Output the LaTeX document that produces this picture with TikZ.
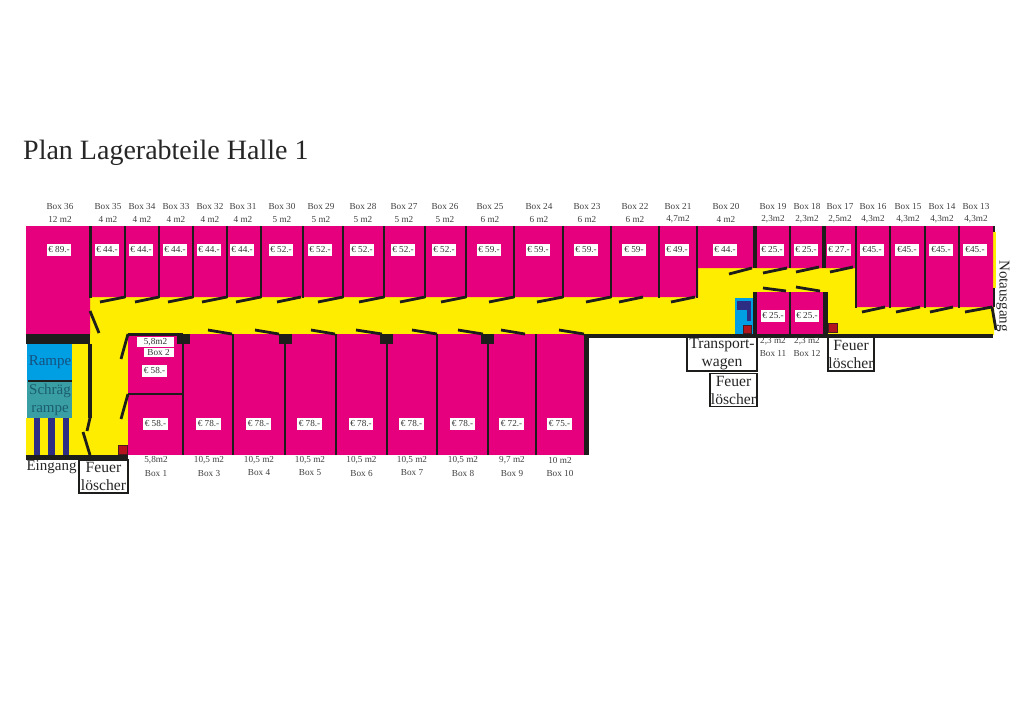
\documentclass[tikz,border=0pt]{standalone}
\usepackage{fontspec}
\setmainfont{Liberation Serif}
\definecolor{boxpink}{HTML}{E6007E}
\definecolor{gangyellow}{HTML}{FFED00}
\definecolor{wallblack}{HTML}{1D1D1B}
\definecolor{rampblue}{HTML}{009FE3}
\definecolor{rampteal}{HTML}{3A9EA5}
\definecolor{stripeblue}{HTML}{2D2E83}
\definecolor{rampink}{HTML}{17507F}
\definecolor{tealink}{HTML}{1A5E70}
\definecolor{firered}{HTML}{B3141E}
\tikzset{
 wall/.style={line width=3.2pt,draw=wallblack},
 thinwall/.style={line width=2.8pt,draw=wallblack},
 door/.style={line width=2.8pt,draw=wallblack},
 boxinfo/.style={font=\fontsize{9.2}{10}\selectfont,text=black!75,inner sep=0pt},
 price/.style={font=\fontsize{9.2}{10}\selectfont,text=black!80,fill=white,inner sep=1.5pt,minimum height=12pt,minimum width=24pt},
 signbox/.style={draw=wallblack,line width=1.3pt,fill=white,font=\fontsize{15.6}{18}\selectfont,align=center,inner sep=0pt,text=black!85},
 plantext/.style={font=\fontsize{15}{18}\selectfont,inner sep=0pt,align=center},
 extinguisher/.style={fill=firered,draw=wallblack!70!firered,line width=.8pt}
}
\begin{document}
\begin{tikzpicture}[x=1pt,y=-1pt]
\useasboundingbox (0,0) rectangle (1024,724);
\node[inner sep=0pt,anchor=west,font=\fontsize{28}{32}\selectfont,text=black!85] (title) at (23,152.5) {Plan Lagerabteile Halle 1};
% floor
\fill[gangyellow] (26,344) -- (90,344) -- (90,297) -- (698,297) -- (698,268) -- (856,268) -- (856,307) -- (994,307) -- (994,335) -- (128,335) -- (128,455) -- (26,455) -- cycle;
\fill[gangyellow] (992,232) rectangle (996,288);
% boxes
\fill[boxpink] (26,226) -- (993,226) -- (993,307) -- (856,307) -- (856,268) -- (698,268) -- (698,297) -- (90,297) -- (90,334) -- (26,334) -- cycle;
\fill[boxpink] (128,334) rectangle (584,455);
\fill[boxpink] (755,292) rectangle (825,334);
% ramp
\fill[white] (26,344) rectangle (27,418);
\fill[rampblue] (27,344) rectangle (72,381);
\fill[rampteal] (27,381) rectangle (72,418);
\draw[line width=1.4pt,draw=wallblack] (28,381) -- (72,381);
\foreach \x in {37,51.5,66}
 \fill[stripeblue] (\x-3.2,418) rectangle (\x+3.2,455);
% transport cart
\fill[rampblue] (735,298) rectangle (753,334);
\fill[stripeblue] (737,301) rectangle (751,310);
\fill[stripeblue] (747,310) rectangle (751,321);
% walls, upper row
\foreach \x in {90.5,125,159,193,227,261,303,343,384,425,466,514,563,611,659,697}
 \draw[thinwall] (\x,226) -- (\x,298);
\foreach \x in {790}
 \draw[thinwall] (\x,226) -- (\x,268);
\foreach \x in {755,824}
 \draw[wall,line width=4.5pt] (\x,226) -- (\x,268);
\foreach \x in {856,890,925,959}
 \draw[thinwall] (\x,226) -- (\x,308);
\draw[thinwall] (994,226) -- (994,232);
\draw[thinwall] (994,288) -- (994,307);
% walls, lower row
\foreach \x in {183,233,285,336,387,437,488,536}
 \draw[thinwall] (\x,334) -- (\x,455);
\draw[wall,line width=5pt] (586,334) -- (586,455);
\draw[thinwall] (128,334.5) -- (183,334.5);
\draw[thinwall] (128,394) -- (183,394);
\draw[wall] (90,344) -- (90,418);
\draw[thinwall] (790,292) -- (790,334);
\draw[wall,line width=4.5pt] (755,292) -- (755,336);
\draw[wall,line width=5pt] (825.5,292) -- (825.5,336);
\draw[wall,line width=4pt] (584,336) -- (993,336);
% heavy bits
\fill[wallblack] (26,334) rectangle (90,344);
\fill[wallblack] (26,455) rectangle (128,459.5);
\foreach \x in {183.5,285,386.5,487.5}
 \fill[wallblack] (\x-6.5,334) rectangle (\x+6.5,343.5);
% doors
\foreach \x/\y in {100/125,135/159,168/193,202/227,236/261,277/301,318/343,359/384,400/425,441/466,489/514,537/563,586/611,619/643,671/695}
 \draw[door] (\x,302) -- (\y,297);
\foreach \x/\y in {208/232,255/279,311/335,356/382,412/437,458/483,501/525,559/584}
 \draw[door] (\x,330) -- (\y,334);
\draw[door] (729,274) -- (752,268);
\draw[door] (763,273) -- (787,268);
\draw[door] (796,272) -- (819,267);
\draw[door] (830,272) -- (853,267);
\foreach \x/\y in {862/885,896/920,930/953,965/992}
 \draw[door] (\x,312) -- (\y,307);
\draw[door] (763,288) -- (786,291);
\draw[door] (796,287) -- (820,291);
\draw[door] (992,307) -- (996,330);
\draw[door] (90,311) -- (99,333);
\draw[door] (128,334) -- (121,359);
\draw[door] (128,394) -- (121,419);
\draw[door] (90,418) -- (87,431);
\draw[door] (83,432) -- (90,455);
% extinguishers
\draw[extinguisher] (118,445) rectangle (127,454);
\draw[extinguisher] (743,325) rectangle (751.5,333);
\draw[extinguisher] (828.5,323) rectangle (837.5,332);
% upper row labels
\foreach \n/\x/\a/\p in {36/60/12 m2/€ 89.-,35/108/4 m2/€ 44.-,34/142/4 m2/€ 44.-,33/176/4 m2/€ 44.-,32/210/4 m2/€ 44.-,31/243/4 m2/€ 44.-,30/282/5 m2/€ 52.-,29/321/5 m2/€ 52.-,28/363/5 m2/€ 52.-,27/404/5 m2/€ 52.-,26/445/5 m2/€ 52.-,25/490/6 m2/€ 59.-,24/539/6 m2/€ 59.-,23/587/6 m2/€ 59.-,22/635/6 m2/€ 59-,21/678/{4,7m2}/€ 49.-,20/726/4 m2/€ 44.-,19/773/{2,3m2}/€ 25.-,18/807/{2,3m2}/€ 25.-,17/840/{2,5m2}/€ 27.-,16/873/{4,3m2}/€45.-,15/908/{4,3m2}/€45.-,14/942/{4,3m2}/€45.-,13/976/{4,3m2}/€45.-}
{
 \node[boxinfo] (name\n) at (\x,206) {Box \n};
 \node[boxinfo] (area\n) at (\x,219) {\a};
 \node[price] (price\n) at (\x-1,249.5) {\p};
}
% lower row labels
\foreach \n/\x/\a/\p in {1/156/{5,8m2}/€ 58.-,3/209/{10,5 m2}/€ 78.-,4/259/{10,5 m2}/€ 78.-,5/310/{10,5 m2}/€ 78.-,6/361.5/{10,5 m2}/€ 78.-,7/412/{10,5 m2}/€ 78.-,8/463/{10,5 m2}/€ 78.-,9/512/{9,7 m2}/€ 72.-,10/560/10 m2/€ 75.-}
{
 \node[boxinfo] (area\n) at (\x,460.5) {\a};
 \node[boxinfo] (name\n) at (\x,473) {Box \n};
 \node[price] (price\n) at (\x-.5,423.5) {\p};
}
% box 2 and the small boxes
\node[price,minimum width=37pt,minimum height=10pt,inner sep=0pt] (area2) at (155.5,342) {5,8m2};
\node[price,minimum width=30pt,minimum height=9pt,inner sep=0pt] (name2) at (158.5,352.5) {Box 2};
\node[price] (price2) at (154.5,370.5) {€ 58.-};
\foreach \n/\x in {11/773,12/807}
{
 \node[boxinfo] (area\n) at (\x,341.5) {2,3 m2};
 \node[boxinfo] (name\n) at (\x,353) {Box \n};
 \node[price] (price\n) at (\x,315.5) {€ 25.-};
}
% signs
\node[plantext,text=rampink] (rampe) at (50,362.5) {Rampe};
\node[plantext,text=tealink] (schraeg) at (50,400) {Schräg\\rampe};
\node[plantext,text=black!85] (eingang) at (51.5,467) {Eingang};
\node[plantext,text=black!85,rotate=-90] (notausgang) at (1003,296) {Notausgang};
\node[signbox,minimum width=49pt,minimum height=33pt] (feuerA) at (103.5,476.5) {Feuer\\löscher};
\node[signbox,minimum width=70pt,minimum height=34pt] (wagen) at (722,354) {Transport-\\wagen};
\node[signbox,minimum width=47pt,minimum height=33pt] (feuerB) at (733.5,390) {Feuer\\löscher};
\node[signbox,minimum width=46pt,minimum height=34pt] (feuerC) at (851,354) {Feuer\\löscher};
\end{tikzpicture}
\end{document}
